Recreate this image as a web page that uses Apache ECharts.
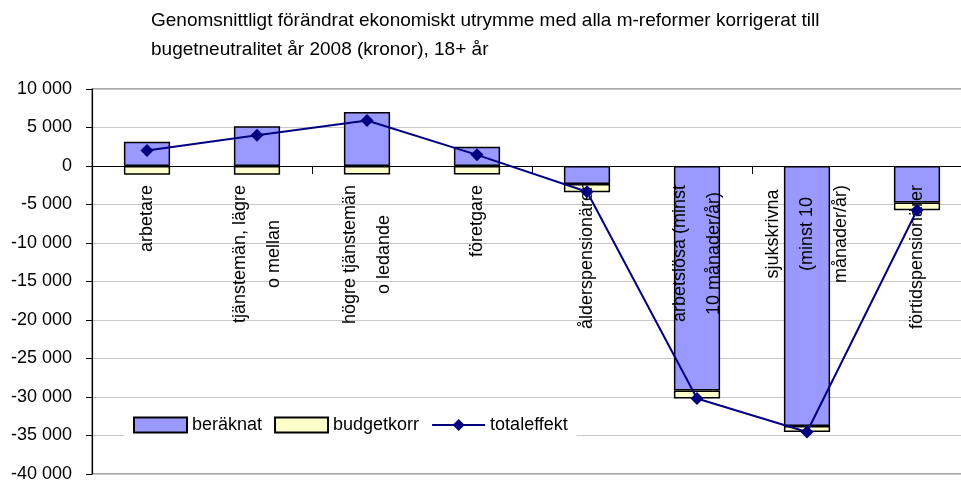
<!DOCTYPE html>
<html>
<head>
<meta charset="utf-8">
<script src="https://cdn.jsdelivr.net/npm/echarts@6/dist/echarts.min.js"></script>
<style>
  html, body { margin: 0; padding: 0; background: #fff; }
  #chart { width: 961px; height: 481px; }
</style>
</head>
<body>
<div id="chart"></div>
<script>
// categories as written in the source chart (line breaks as in the picture)
const categories = [
  "arbetare",
  "tjänstemän, lägre\no mellan",
  "högre tjänstemän\no ledande",
  "företgare",
  "ålderspensionärer",
  "arbetslösa (minst\n10 månader/år)",
  "sjukskrivna\n(minst 10\nmånader/år)",
  "förtidspensionärer",
];
const beraknat = [3150, 5150, 7000, 2500, -2350, -29150, -33750, -4750];
const budgetkorr = [-1150, -1150, -1100, -1100, -1050, -1050, -800, -1000];
const totaleffekt = [2000, 4000, 5900, 1450, -3350, -30200, -34550, -5750];

const FONT = "Liberation Sans, Arial, sans-serif";

function fmt(v) {
  const s = Math.abs(v).toString().replace(/\B(?=(\d{3})+(?!\d))/g, " ");
  return (v < 0 ? "-" : "") + s;
}

const chart = echarts.init(document.getElementById("chart"), null, { renderer: "canvas" });

const option = {
  animation: false,
  backgroundColor: "#fff",
  textStyle: { fontFamily: FONT },
  title: {
    text: "Genomsnittligt förändrat ekonomiskt utrymme med alla m-reformer korrigerat till\nbugetneutralitet år 2008 (kronor), 18+ år",
    left: 151,
    top: 6,
    padding: 0,
    textStyle: {
      fontFamily: FONT,
      fontSize: 19,
      fontWeight: "normal",
      color: "#000",
      lineHeight: 29,
    },
  },
  legend: {
    data: [
      { name: "beräknat", icon: "rect" },
      { name: "budgetkorr", icon: "rect" },
      "totaleffekt",
    ],
    left: 124,
    top: 413,
    padding: [3, 9, 3, 9],
    backgroundColor: "#fff",
    itemWidth: 53,
    itemHeight: 15,
    itemGap: 12,
    textStyle: { fontFamily: FONT, fontSize: 18, color: "#000" },
  },
  grid: [
    {
      left: 92,
      top: 89,
      right: -11,
      bottom: 7,
      outerBoundsMode: "none",
      containLabel: false,
      show: true,
      borderColor: "#8c8c8c",
      borderWidth: 1.5,
    },
    {
      // upper part of the plot (10 000 .. 0), only used to hang the category labels under the zero line
      left: 92,
      top: 89,
      right: -11,
      height: 78,
      outerBoundsMode: "none",
      containLabel: false,
      show: false,
    },
  ],
  xAxis: [
    {
      type: "category",
      data: categories,
      gridIndex: 0,
      z: 2,
      axisLine: { onZero: true, lineStyle: { color: "#000", width: 1.2 } },
      axisTick: { show: true, length: 8, lineStyle: { color: "#000" } },
      axisLabel: { show: false },
    },
    {
      type: "category",
      data: categories,
      gridIndex: 1,
      position: "bottom",
      z: 2,
      axisLine: { show: false },
      axisTick: { show: false },
      axisLabel: {
        interval: 0,
        rotate: 90,
        margin: 18,
        color: "#000",
        fontFamily: FONT,
        fontSize: 18,
        lineHeight: 34,
        formatter: (v) => v.split("\n").map((l) => "{c|" + l + "}").join("\n"),
        rich: {
          c: { align: "center", fontFamily: FONT, fontSize: 18, lineHeight: 34, color: "#000" },
        },
      },
    },
  ],
  yAxis: [
    {
      type: "value",
      gridIndex: 0,
      min: -40000,
      max: 10000,
      interval: 5000,
      axisLine: { show: true, lineStyle: { color: "#000", width: 1.2 } },
      axisTick: { show: true, length: 6, lineStyle: { color: "#000" } },
      axisLabel: {
        margin: 20,
        color: "#000",
        fontFamily: FONT,
        fontSize: 18,
        formatter: fmt,
      },
      splitLine: { show: true, lineStyle: { color: "#c8c8c8", width: 1.2 } },
    },
    {
      type: "value",
      gridIndex: 1,
      min: 0,
      max: 10000,
      show: false,
    },
  ],
  series: [
    {
      name: "beräknat",
      type: "bar",
      stack: "tot",
      z: 1,
      barWidth: "42%",
      data: beraknat,
      itemStyle: { color: "#9999ff", borderColor: "#000", borderWidth: 1.5 },
    },
    {
      name: "budgetkorr",
      type: "bar",
      stack: "tot",
      z: 1,
      barWidth: "42%",
      data: budgetkorr,
      itemStyle: { color: "#ffffcc", borderColor: "#000", borderWidth: 1.5 },
    },
    {
      name: "totaleffekt",
      type: "line",
      z: 3,
      data: totaleffekt,
      symbol: "diamond",
      symbolSize: 13,
      lineStyle: { color: "#000080", width: 2 },
      itemStyle: { color: "#000080" },
    },
  ],
};

chart.setOption(option);
</script>
</body>
</html>
